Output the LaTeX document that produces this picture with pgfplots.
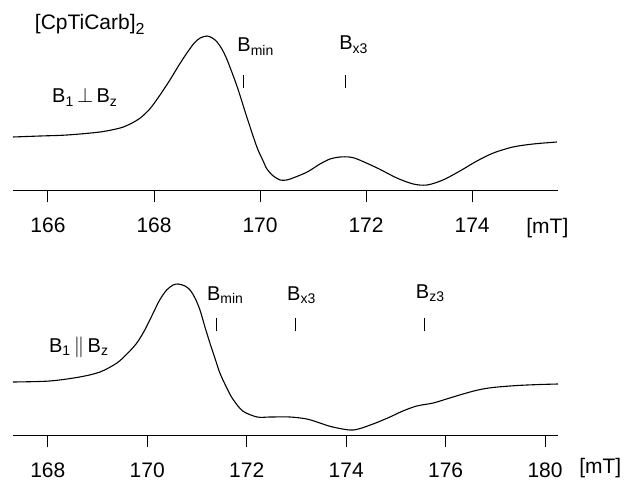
\documentclass[border=0pt]{standalone}
\usepackage{fontspec}
\setmainfont{Liberation Sans}
\usepackage{pgfplots}
\pgfplotsset{compat=1.18}

\newcommand\ticklab{\fontsize{21}{24}\selectfont}
\newcommand\lab{\fontsize{20}{23}\selectfont}

\pgfplotsset{
  epr/.style={
    scale only axis, width=545pt, height=190pt,
    ymin=0, ymax=190,
    axis x line*=bottom, axis y line=none, ytick=\empty,
    xtick align=outside, major tick length=12pt,
    tick style={line width=1pt, black},
    axis line style={line width=1pt, -},
    xticklabel style={font=\ticklab, anchor=base, yshift=-30pt},
    /pgf/number format/assume math mode=true,
    clip=false,
  },
  spec/.style={black, line width=1.1pt, smooth, tension=0.5, no marks},
  pos/.style={black, line width=1pt, no marks},
}

\begin{document}
\begin{tikzpicture}
\path (0pt,0pt) rectangle (626pt,-479pt);

% upper spectrum
\begin{axis}[epr, at={(13pt,-190pt)}, anchor=south west,
  xmin=165.34, xmax=175.62,
  xtick={166,168,170,172,174},
  xticklabels={166,168,170,172,174}]
\addplot[spec] coordinates {
 (165.34,53) (165.85,54) (166.36,55) (166.98,58) (167.36,62) (167.55,66)
 (167.74,72) (167.92,81) (168.10,94) (168.30,110) (168.46,124) (168.62,137)
 (168.76,147) (168.87,152) (169.00,154) (169.10,152) (169.19,148)
 (169.28,141) (169.38,130) (169.57,103) (169.75,73) (169.94,43) (170.05,30)
 (170.13,21) (170.25,14) (170.38,10) (170.50,10) (170.62,12) (170.89,18)
 (171.13,26) (171.32,31) (171.51,33) (171.68,33) (171.83,31) (172.21,22)
 (172.58,12) (172.89,6) (173.15,5) (173.45,10) (173.77,19) (174.09,29)
 (174.40,37) (174.77,43) (175.15,46) (175.60,48)
};
\addplot[pos] coordinates {(169.68,102) (169.68,115)};
\addplot[pos] coordinates {(171.62,102) (171.62,115)};
\node[anchor=base west, inner sep=0, font=\fontsize{21}{24}\selectfont] at (axis cs:165.75,160) {[CpTiCarb]\textsubscript{\fontsize{16}{18}\selectfont 2}};
\node[anchor=base west, inner sep=0, font=\lab] at (axis cs:166.075,87) {B\textsubscript{1}\,$\perp$\,B\textsubscript{z}};
\node[anchor=base west, inner sep=0, font=\lab] at (axis cs:169.57,138) {B\textsubscript{min}};
\node[anchor=base west, inner sep=0, font=\lab] at (axis cs:171.49,140) {B\textsubscript{x3}};
\node[anchor=base, inner sep=0, font=\ticklab] at (axis cs:175.42,-43) {[mT]};
\end{axis}

% lower spectrum
\begin{axis}[epr, at={(13pt,-435pt)}, anchor=south west,
  xmin=167.30, xmax=178.26,
  xtick={168,170,172,174,176,178},
  xticklabels={168,170,172,174,176,180}]
\addplot[spec] coordinates {
 (167.30,53) (168.04,54) (168.64,58) (169.05,63) (169.39,72) (169.61,82)
 (169.79,92) (169.95,105) (170.11,121) (170.25,135) (170.39,145) (170.52,150)
 (170.62,151) (170.76,149) (170.86,145) (170.96,137) (171.06,125) (171.16,108)
 (171.26,92) (171.36,77) (171.46,62) (171.60,47) (171.72,36) (171.92,24)
 (172.21,18) (172.47,18) (172.87,18) (173.21,16) (173.47,12) (173.73,8)
 (174.14,5) (174.54,11) (174.88,18) (175.14,24) (175.42,29) (175.75,32)
 (176.05,36.5) (176.35,41) (176.65,45) (176.95,47.5) (177.44,49.5)
 (177.90,50.5) (178.26,51)
};
\addplot[pos] coordinates {(171.39,104) (171.39,117)};
\addplot[pos] coordinates {(172.98,104) (172.98,117)};
\addplot[pos] coordinates {(175.57,104) (175.57,117)};
\node[anchor=base west, inner sep=0, font=\lab] at (axis cs:168.02,83) {B\textsubscript{1}\,$\parallel$\,B\textsubscript{z}};
\node[anchor=base west, inner sep=0, font=\lab] at (axis cs:171.20,135) {B\textsubscript{min}};
\node[anchor=base west, inner sep=0, font=\lab] at (axis cs:172.81,135) {B\textsubscript{x3}};
\node[anchor=base west, inner sep=0, font=\lab] at (axis cs:175.40,137) {B\textsubscript{z3}};
\node[anchor=base, inner sep=0, font=\ticklab] at (axis cs:179.11,-38) {[mT]};
\end{axis}
\end{tikzpicture}
\end{document}
